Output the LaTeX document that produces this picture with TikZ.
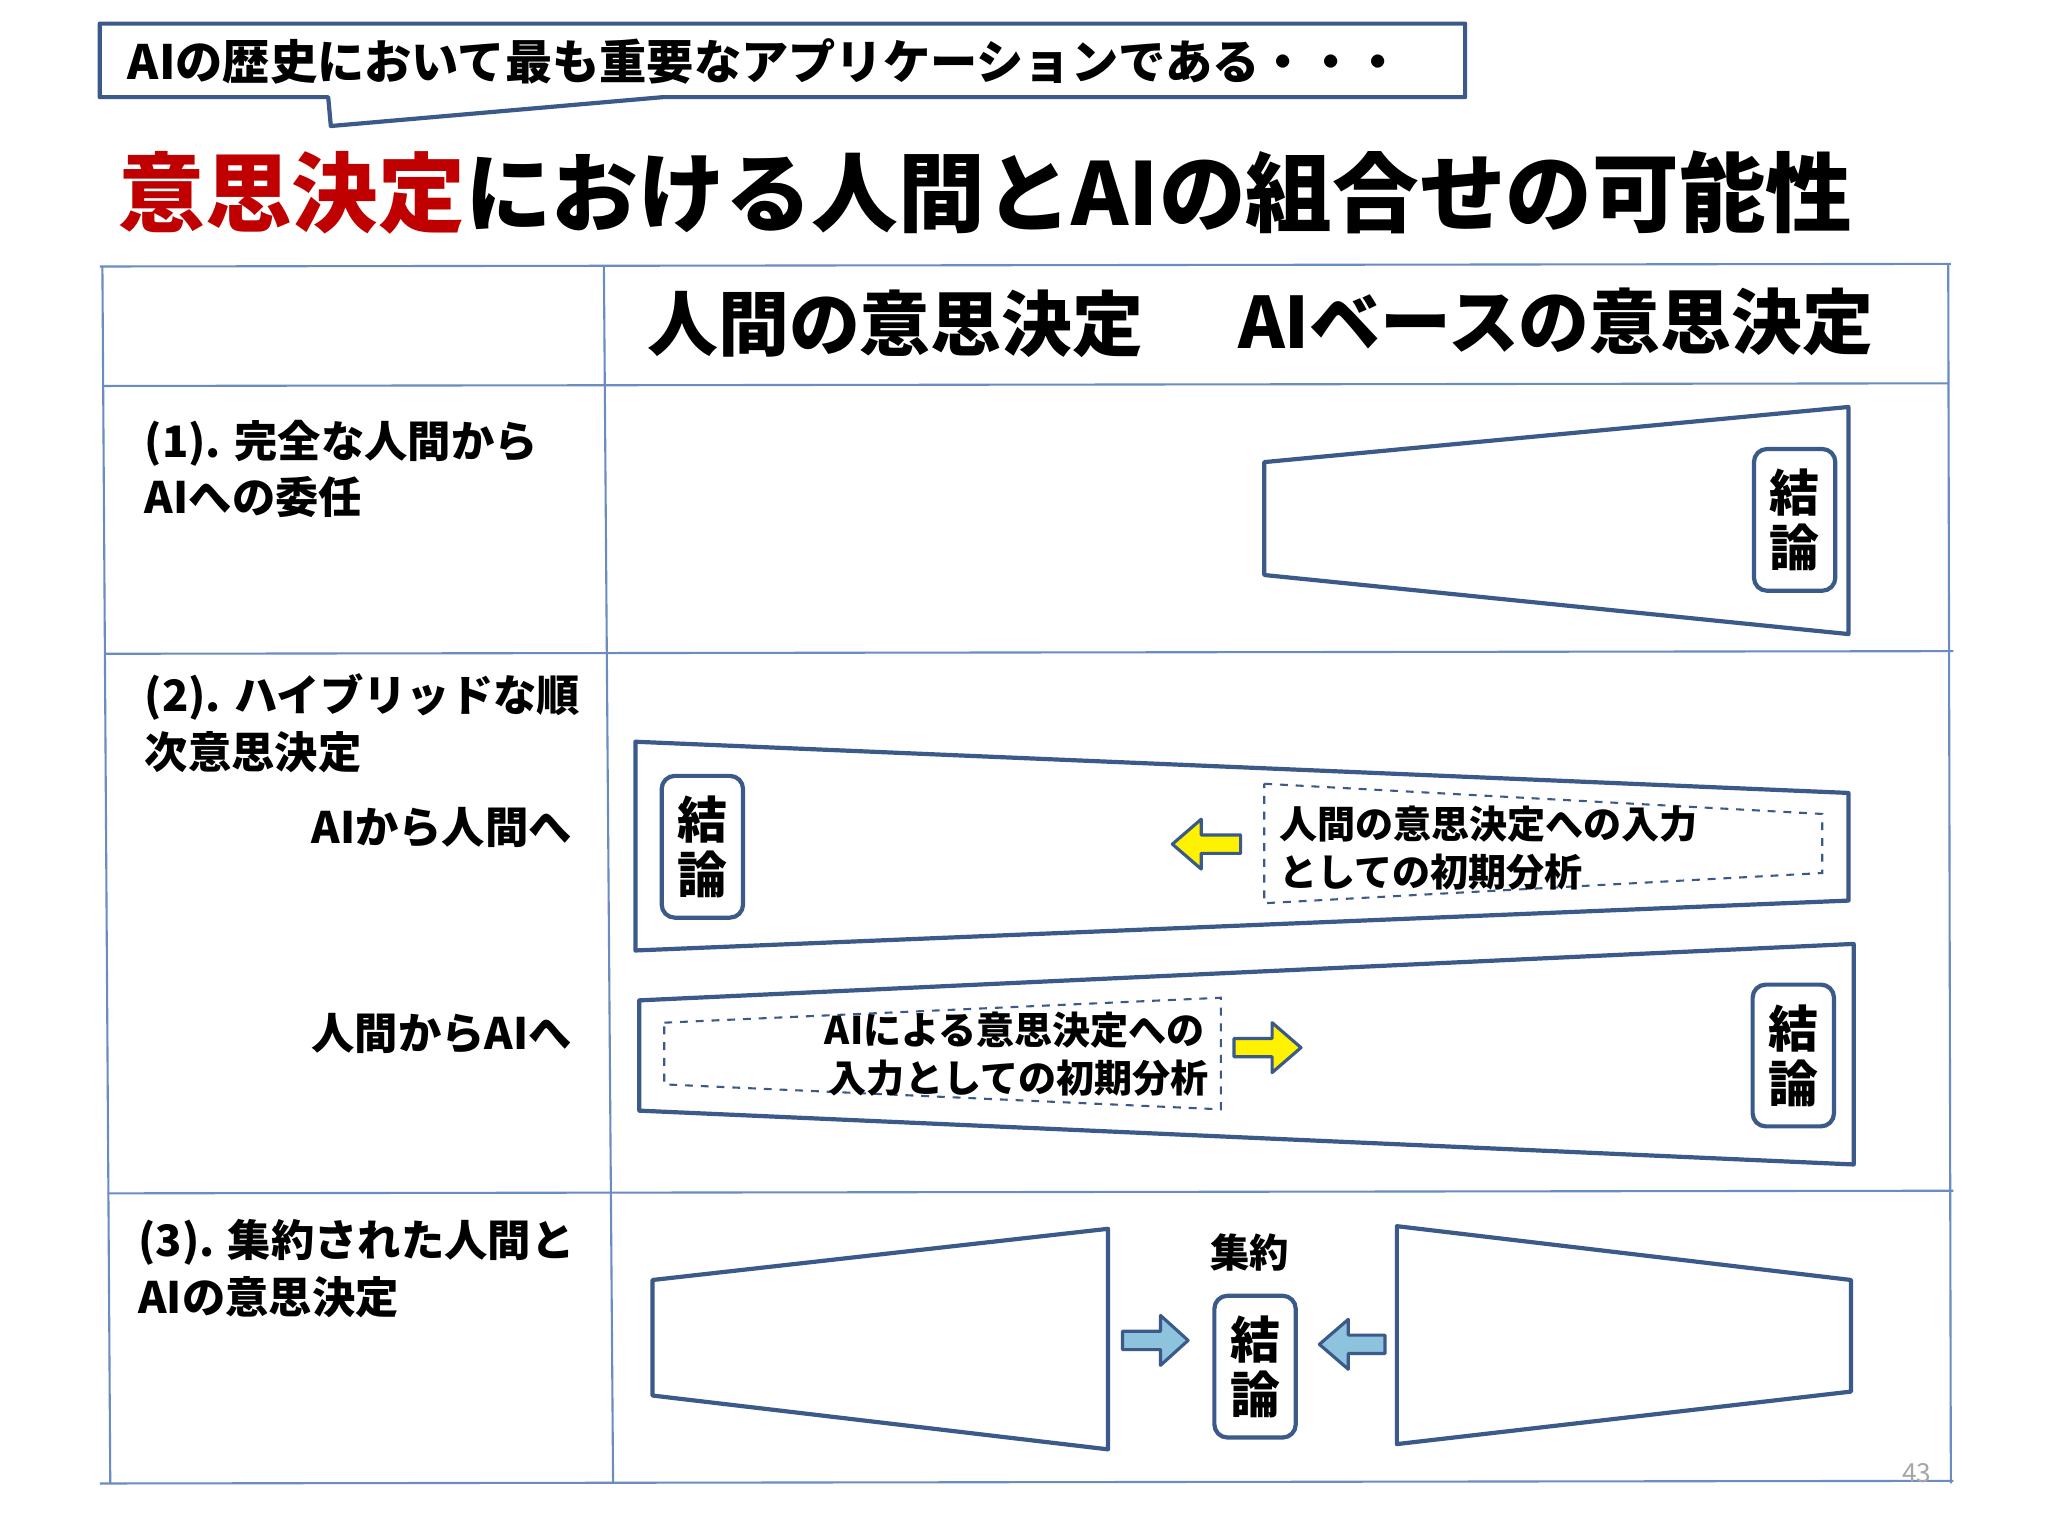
\documentclass[tikz,border=0pt]{standalone}
\usepackage{fontspec}
\setmainfont{Noto Sans CJK JP}
\definecolor{dk}{HTML}{3B5A8A}
\definecolor{tl}{HTML}{6A8CC0}
\definecolor{red1}{HTML}{C00000}
\definecolor{lb}{HTML}{8DC3DD}
\begin{document}
\begin{tikzpicture}[x=0.5pt,y=-0.5pt,
  shp/.style={draw=dk,line width=1.6pt,line join=round},
  tbl/.style={draw=tl,line width=0.8pt},
  concl/.style={draw=dk,line width=1.6pt,rounded corners=5pt,minimum width=31pt,minimum height=54pt,align=center,font=\fontsize{19}{21}\selectfont\bfseries,inner sep=0pt},
  lbl/.style={anchor=west,font=\fontsize{16.5}{18}\selectfont\bfseries,inner sep=0pt},
  dtxt/.style={anchor=west,font=\fontsize{14.5}{16}\selectfont\bfseries,inner sep=0pt},
  hdr/.style={font=\fontsize{27}{30}\selectfont\bfseries,inner sep=0pt},
  dsh/.style={draw=dk,line width=0.8pt,dashed},
  yarr/.style={draw=dk,line width=1.2pt,fill=yellow,line join=round},
  barr/.style={draw=dk,line width=1.2pt,fill=lb,line join=round}]
\useasboundingbox (0,0) rectangle (1560,1170);
\fill[white] (0,0) rectangle (1560,1170);
% callout
\draw[shp] (76,18) -- (1116,18) -- (1116,74) -- (505,74) -- (252,96) -- (250,74) -- (76,74) -- cycle;
\node[anchor=west,inner sep=0pt,font=\fontsize{18}{20}\selectfont\bfseries] (co) at (97,47) {AIの歴史において最も重要なアプリケーションである・・・};
% title
\node[anchor=west,inner sep=0pt,font=\fontsize{33}{36}\selectfont\bfseries] (title) at (90,147) {\textcolor{red1}{意思決定}における人間とAIの組合せの可能性};
% table
\draw[tbl] (76,203) -- (1486,201);
\draw[tbl] (78,294) -- (1484,292);
\draw[tbl] (80,498) -- (1488,496);
\draw[tbl] (82,909) -- (1488,907);
\draw[tbl] (76,1130) -- (1488,1128);
\draw[tbl] (78,203) -- (84,1130);
\draw[tbl] (460,203) -- (467,1130);
\draw[tbl] (1484,201) -- (1486,1130);
\node[hdr] (h1) at (682,247) {人間の意思決定};
\node[hdr] (h2) at (1185,245) {AIベースの意思決定};
% row labels
\node[lbl] (r1a) at (110,338) {(1). 完全な人間から};
\node[lbl] (r1b) at (110,379) {AIへの委任};
\node[lbl] (r2a) at (110,531) {(2). ハイブリッドな順};
\node[lbl] (r2b) at (110,573) {次意思決定};
\node[lbl,anchor=east] (r2c) at (436,630) {AIから人間へ};
\node[lbl,anchor=east] (r2d) at (436,787) {人間からAIへ};
\node[lbl] (r3a) at (105,946) {(3). 集約された人間と};
\node[lbl] (r3b) at (105,988) {AIの意思決定};
% row 1
\draw[shp] (963,352) -- (1408,310) -- (1408,483) -- (963,438) -- cycle;
\node[concl] (c1) at (1367,396) {結\\論};
% row 2 A
\draw[shp] (484,565) -- (1408,604) -- (1408,686) -- (484,724) -- cycle;
\node[concl] (c2) at (535,645) {結\\論};
\draw[dsh] (963,597) -- (1388,620) -- (1388,665) -- (963,688) -- cycle;
\node[dtxt] (d1) at (974,628) {人間の意思決定への入力};
\node[dtxt] (d2) at (974,664) {としての初期分析};
\draw[yarr] (945,636) -- (915,636) -- (915,624) -- (893,643) -- (915,662) -- (915,650) -- (945,650) -- cycle;
% row 2 B
\draw[shp] (487,762) -- (1412,719) -- (1412,887) -- (487,846) -- cycle;
\node[concl] (c3) at (1366,804) {結\\論};
\draw[dsh] (506,779) -- (930,760) -- (930,845) -- (506,826) -- cycle;
\node[dtxt] (d3) at (628,785) {AIによる意思決定への};
\node[dtxt] (d4) at (631,821) {入力としての初期分析};
\draw[yarr] (940,791) -- (969,791) -- (969,779) -- (991,798) -- (969,817) -- (969,805) -- (940,805) -- cycle;
% row 3
\draw[shp] (497,975) -- (844,936) -- (844,1104) -- (497,1063) -- cycle;
\draw[shp] (1064,934) -- (1410,975) -- (1410,1060) -- (1064,1100) -- cycle;
\node[font=\fontsize{15}{17}\selectfont\bfseries,inner sep=0pt] (agg) at (952,954) {集約};
\node[concl] (c4) at (956,1041) {結\\論};
\draw[barr] (855,1014) -- (884,1014) -- (884,1002) -- (905,1021) -- (884,1040) -- (884,1028) -- (855,1028) -- cycle;
\draw[barr] (1055,1017) -- (1027,1017) -- (1027,1005) -- (1005,1024) -- (1027,1043) -- (1027,1031) -- (1055,1031) -- cycle;
\node[font=\fontsize{10}{12}\selectfont,text=gray!70,inner sep=0pt] (pg) at (1460,1122) {43};
\end{tikzpicture}
\end{document}
